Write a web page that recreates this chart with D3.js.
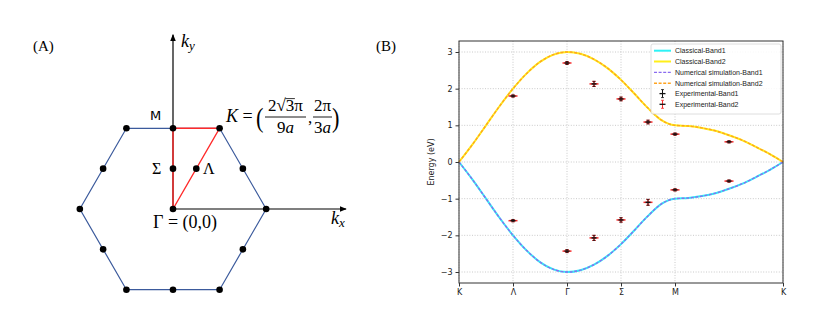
<!DOCTYPE html>
<html>
<head>
<meta charset="utf-8">
<script src="https://cdn.jsdelivr.net/npm/d3@7"></script>
<style>
  body { margin: 0; background: #fff; }
</style>
</head>
<body>
<div class="container"></div>
<script>
// ---- panel A: Brillouin zone (units of pi/a) ----
const hexKx = [0.770, 0.385, -0.385, -0.770, -0.385, 0.385]
const hexKy = [0, 0.667, 0.667, 0, -0.667, -0.667]
const dotKx = [0.770, 0.385, -0.385, -0.770, -0.385, 0.385,
  0.5775, 0, -0.5775, -0.5775, 0, 0.5775, 0, 0, 0.1925]
const dotKy = [0, 0.667, 0.667, 0, -0.667, -0.667,
  0.3335, 0.667, 0.3335, -0.3335, -0.667, -0.3335, 0, 0.3335, 0.3335]
const pathKx = [0, 0, 0.385, 0]   // Gamma - M - K - Gamma
const pathKy = [0, 0.667, 0.667, 0]

// ---- panel B: band structure ----
const tickPos = [0, 1, 2, 3, 4, 6]
const tickNames = ['K', 'Λ', 'Γ', 'Σ', 'M', 'K']
const yTicks = [-3, -2, -1, 0, 1, 2, 3]
const bandX = [0, 0.25, 0.5, 0.75, 1, 1.25, 1.5, 1.75, 2, 2.25, 2.5, 2.75, 3,
  3.25, 3.5, 3.75, 4, 4.25, 4.5, 4.75, 5, 5.25, 5.5, 5.75, 6]
const band2 = [0, 0.48, 1.0, 1.52, 2.0, 2.41, 2.73, 2.93, 3.0, 2.95, 2.80, 2.56, 2.24,
  1.86, 1.47, 1.14, 1.0, 0.98, 0.93, 0.85, 0.73, 0.59, 0.41, 0.22, 0]
const band1 = [0, -0.48, -1.0, -1.52, -2.0, -2.41, -2.73, -2.93, -3.0, -2.95, -2.80, -2.56, -2.24,
  -1.86, -1.47, -1.14, -1.0, -0.98, -0.93, -0.85, -0.73, -0.59, -0.41, -0.22, 0]
const expX = [1, 2, 2.5, 3, 3.5, 4, 5, 1, 2, 2.5, 3, 3.5, 4, 5]
const expE = [1.80, 2.70, 2.13, 1.72, 1.09, 0.76, 0.55,
  -1.60, -2.43, -2.07, -1.58, -1.10, -0.76, -0.52]
const expErr = [0.03, 0.04, 0.07, 0.05, 0.05, 0.03, 0.03,
  0.03, 0.04, 0.07, 0.06, 0.08, 0.03, 0.03]

const W = 830
const H = 321

const svg = d3.select('.container')
  .append('svg')
  .attr('width', W)
  .attr('height', H)

// ============ Panel A ============
const ax = d3.scaleLinear().domain([0, 1]).range([173, 294])
const ay = d3.scaleLinear().domain([0, 1]).range([209, 88])

const gA = svg.append('g')

gA.append('text')
  .text('(A)')
  .attr('x', 33)
  .attr('y', 51)
  .attr('font-family', 'Liberation Serif, serif')
  .attr('font-size', 15)

// axes with arrows
svg.append('defs').append('marker')
  .attr('id', 'arrow')
  .attr('viewBox', '0 0 10 10')
  .attr('refX', 9)
  .attr('refY', 5)
  .attr('markerWidth', 6)
  .attr('markerHeight', 6)
  .attr('orient', 'auto')
  .append('path')
  .attr('d', 'M0,1 L10,5 L0,9 z')
  .attr('fill', '#000')

gA.append('line')
  .attr('x1', ax(0)).attr('y1', ay(0))
  .attr('x2', ax(1.43)).attr('y2', ay(0))
  .attr('stroke', '#000')
  .attr('stroke-width', 1.2)
  .attr('marker-end', 'url(#arrow)')

gA.append('line')
  .attr('x1', ax(0)).attr('y1', ay(0))
  .attr('x2', ax(0)).attr('y2', ay(1.44))
  .attr('stroke', '#000')
  .attr('stroke-width', 1.2)
  .attr('marker-end', 'url(#arrow)')

const hexPts = hexKx.map((d, i) => [ax(d), ay(hexKy[i])])
gA.append('path')
  .attr('d', d3.line()(hexPts) + 'Z')
  .attr('fill', 'none')
  .attr('stroke', '#3b5a9c')
  .attr('stroke-width', 1.2)

const triPts = pathKx.map((d, i) => [ax(d), ay(pathKy[i])])
gA.append('path')
  .attr('d', d3.line()(triPts))
  .attr('fill', 'none')
  .attr('stroke', '#ff2a2a')
  .attr('stroke-width', 1.4)

gA.selectAll('circle.bz')
  .data(dotKx)
  .enter()
  .append('circle')
  .attr('class', 'bz')
  .attr('cx', d => ax(d))
  .attr('cy', (d, i) => ay(dotKy[i]))
  .attr('r', 3.3)
  .attr('fill', '#000')

const serif = 'Liberation Serif, DejaVu Serif, serif'

// k_y, k_x
const ky = gA.append('text')
  .attr('x', 181).attr('y', 47)
  .attr('font-family', serif)
  .attr('font-size', 18)
ky.append('tspan').attr('font-style', 'italic').text('k')
ky.append('tspan').attr('font-style', 'italic').attr('font-size', 13).attr('dy', 3).text('y')

const kx = gA.append('text')
  .attr('x', 331).attr('y', 224)
  .attr('font-family', serif)
  .attr('font-size', 18)
kx.append('tspan').attr('font-style', 'italic').text('k')
kx.append('tspan').attr('font-style', 'italic').attr('font-size', 13).attr('dy', 3).text('x')

gA.append('text')
  .text('M')
  .attr('x', 150).attr('y', 120)
  .attr('font-family', 'DejaVu Sans, sans-serif')
  .attr('font-size', 13)

gA.append('text')
  .text('Σ')
  .attr('x', 152).attr('y', 174)
  .attr('font-family', serif)
  .attr('font-size', 16)

gA.append('text')
  .text('Λ')
  .attr('x', 203).attr('y', 174)
  .attr('font-family', serif)
  .attr('font-size', 16)

gA.append('text')
  .text('Γ = (0,0)')
  .attr('x', 153).attr('y', 228)
  .attr('font-family', serif)
  .attr('font-size', 18)

// K = (2√3π/9a, 2π/3a)
const kLab = gA.append('text')
  .attr('x', 226).attr('y', 122)
  .attr('font-family', serif)
  .attr('font-size', 18)
kLab.append('tspan').attr('font-style', 'italic').text('K')
kLab.append('tspan').text(' = ')
gA.append('text')
  .text('(')
  .attr('x', 256).attr('y', 127)
  .attr('font-family', serif)
  .attr('font-size', 28)
  .attr('transform', 'translate(256,127) scale(0.8,1) translate(-256,-127)')

const frac = (cx, num, den) => {
  const t = gA.append('text')
    .attr('x', cx).attr('y', 111)
    .attr('text-anchor', 'middle')
    .attr('font-family', serif)
    .attr('font-size', 17)
    .text(num)
  gA.append('text')
    .attr('x', cx).attr('y', 133)
    .attr('text-anchor', 'middle')
    .attr('font-family', serif)
    .attr('font-size', 17)
    .html(den.replace('a', '<tspan font-style="italic">a</tspan>'))
  return t
}
const num1 = frac(285.5, '2√3π', '9a')
gA.append('line')
  .attr('x1', 265).attr('x2', 306)
  .attr('y1', 117).attr('y2', 117)
  .attr('stroke', '#000').attr('stroke-width', 0.9)
// radical overline above the 3
const n1 = num1.node()
const s3 = n1.getStartPositionOfChar(2).x
const e3 = n1.getEndPositionOfChar(2).x
gA.append('line')
  .attr('x1', s3 - 0.5).attr('x2', e3 + 0.5)
  .attr('y1', 98.6).attr('y2', 98.6)
  .attr('stroke', '#000').attr('stroke-width', 0.8)
gA.append('text')
  .text(',')
  .attr('x', 308).attr('y', 123)
  .attr('font-family', serif)
  .attr('font-size', 17)
frac(322.5, '2π', '3a')
gA.append('line')
  .attr('x1', 313).attr('x2', 332)
  .attr('y1', 117).attr('y2', 117)
  .attr('stroke', '#000').attr('stroke-width', 0.9)
gA.append('text')
  .text(')')
  .attr('x', 332).attr('y', 127)
  .attr('font-family', serif)
  .attr('font-size', 28)
  .attr('transform', 'translate(332,127) scale(0.8,1) translate(-332,-127)')

// ============ Panel B ============
const pLeft = 459
const pRight = 783
const pTop = 41
const pBottom = 283

const xScale = d3.scaleLinear().domain([0, 6]).range([pLeft, pRight])
const yScale = d3.scaleLinear().domain([-3.3, 3.3]).range([pBottom, pTop])

svg.append('text')
  .text('(B)')
  .attr('x', 376)
  .attr('y', 51)
  .attr('font-family', 'Liberation Serif, serif')
  .attr('font-size', 15)

const gB = svg.append('g')

// grid
gB.selectAll('line.gy')
  .data(yTicks)
  .enter()
  .append('line')
  .attr('class', 'gy')
  .attr('x1', pLeft).attr('x2', pRight)
  .attr('y1', d => yScale(d)).attr('y2', d => yScale(d))
  .attr('stroke', '#bdbdbd')
  .attr('stroke-width', 0.8)
  .attr('stroke-dasharray', '1,1.6')

gB.selectAll('line.gx')
  .data(tickPos)
  .enter()
  .append('line')
  .attr('class', 'gx')
  .attr('x1', d => xScale(d)).attr('x2', d => xScale(d))
  .attr('y1', pTop).attr('y2', pBottom)
  .attr('stroke', '#bdbdbd')
  .attr('stroke-width', 0.8)
  .attr('stroke-dasharray', '1,1.6')

// bands
const bandLine = vals => d3.line()
  .x((d, i) => xScale(bandX[i]))
  .y(d => yScale(d))
  .curve(d3.curveMonotoneX)(vals)

const bandStyles = [
  { vals: band1, color: '#2ef2f6', width: 2, dash: null },
  { vals: band2, color: '#ffef1a', width: 2, dash: null },
  { vals: band1, color: '#8a6cf0', width: 1.4, dash: '3,1.6' },
  { vals: band2, color: '#ffa421', width: 1.4, dash: '3,1.6' }
]

bandStyles.forEach(s => {
  gB.append('path')
    .attr('d', bandLine(s.vals))
    .attr('fill', 'none')
    .attr('stroke', s.color)
    .attr('stroke-width', s.width)
    .attr('stroke-dasharray', s.dash)
})

// experimental points (band2 red under, band1 black on top)
const drawErr = (color, mw, lw, cap) => {
  const g = gB.append('g')
  expX.forEach((x, i) => {
    const cx = xScale(x)
    const y0 = yScale(expE[i] - expErr[i])
    const y1 = yScale(expE[i] + expErr[i])
    g.append('line')
      .attr('x1', cx).attr('x2', cx).attr('y1', y0).attr('y2', y1)
      .attr('stroke', color).attr('stroke-width', lw)
    g.append('line')
      .attr('x1', cx - cap).attr('x2', cx + cap).attr('y1', y0).attr('y2', y0)
      .attr('stroke', color).attr('stroke-width', 0.8)
    g.append('line')
      .attr('x1', cx - cap).attr('x2', cx + cap).attr('y1', y1).attr('y2', y1)
      .attr('stroke', color).attr('stroke-width', 0.8)
    g.append('line')
      .attr('x1', cx - mw / 2).attr('x2', cx + mw / 2)
      .attr('y1', yScale(expE[i])).attr('y2', yScale(expE[i]))
      .attr('stroke', color).attr('stroke-width', 1.5)
  })
}
drawErr('#f52a2a', 9, 1.4, 2)
drawErr('#111', 5, 0.7, 1.3)

// frame
gB.append('rect')
  .attr('x', pLeft).attr('y', pTop)
  .attr('width', pRight - pLeft).attr('height', pBottom - pTop)
  .attr('fill', 'none')
  .attr('stroke', '#333')
  .attr('stroke-width', 1)

// axes
const xAxis = d3.axisBottom(xScale)
  .tickValues(tickPos)
  .tickFormat((d, i) => tickNames[i])
  .tickSize(3.5)
  .tickPadding(3)

const yAxis = d3.axisLeft(yScale)
  .tickValues(yTicks)
  .tickFormat(d => d < 0 ? '\u2212' + Math.abs(d) : d)
  .tickSize(3.5)
  .tickPadding(3)

const gx = svg.append('g')
  .attr('transform', `translate(0, ${pBottom})`)
  .call(xAxis)
const gy = svg.append('g')
  .attr('transform', `translate(${pLeft}, 0)`)
  .call(yAxis)

;[gx, gy].forEach(g => {
  g.select('.domain').remove()
  g.selectAll('line').attr('stroke', '#333')
  g.selectAll('text')
    .attr('font-family', 'DejaVu Sans, sans-serif')
    .attr('font-size', 8)
    .attr('fill', '#222')
})

svg.append('text')
  .text('Energy (eV)')
  .attr('transform', `translate(434, ${yScale(0)}) rotate(-90)`)
  .attr('text-anchor', 'middle')
  .attr('font-family', 'DejaVu Sans, sans-serif')
  .attr('font-size', 8)
  .attr('fill', '#222')

// legend
const legNames = ['Classical-Band1', 'Classical-Band2', 'Numerical simulation-Band1',
  'Numerical simulation-Band2', 'Experimental-Band1', 'Experimental-Band2']
const legY = [50.7, 61.5, 72.4, 83.2, 93.6, 104.3]

const leg = svg.append('g')
leg.append('rect')
  .attr('x', 651).attr('y', 44)
  .attr('width', 130).attr('height', 70)
  .attr('rx', 2)
  .attr('fill', '#fff')
  .attr('fill-opacity', 0.85)
  .attr('stroke', '#d6d6d6')
  .attr('stroke-width', 0.8)

bandStyles.forEach((s, i) => {
  leg.append('line')
    .attr('x1', 654).attr('x2', 671)
    .attr('y1', legY[i]).attr('y2', legY[i])
    .attr('stroke', s.color)
    .attr('stroke-width', s.width)
    .attr('stroke-dasharray', s.dash)
})

;['#111', '#f52a2a'].forEach((c, j) => {
  const y = legY[4 + j]
  const g = leg.append('g')
  g.append('line').attr('x1', 662.5).attr('x2', 662.5).attr('y1', y - 4).attr('y2', y + 4)
    .attr('stroke', c).attr('stroke-width', 1)
  g.append('line').attr('x1', 661).attr('x2', 664).attr('y1', y - 4).attr('y2', y - 4)
    .attr('stroke', c).attr('stroke-width', 0.8)
  g.append('line').attr('x1', 661).attr('x2', 664).attr('y1', y + 4).attr('y2', y + 4)
    .attr('stroke', c).attr('stroke-width', 0.8)
  g.append('line').attr('x1', 659.5).attr('x2', 665.5).attr('y1', y).attr('y2', y)
    .attr('stroke', '#111').attr('stroke-width', 1.3)
})

leg.selectAll('text')
  .data(legNames)
  .enter()
  .append('text')
  .text(d => d)
  .attr('x', 675)
  .attr('y', (d, i) => legY[i] + 2.5)
  .attr('font-family', 'Liberation Sans, Arial, sans-serif')
  .attr('font-size', 7)
  .attr('fill', '#222')
</script>
</body>
</html>
